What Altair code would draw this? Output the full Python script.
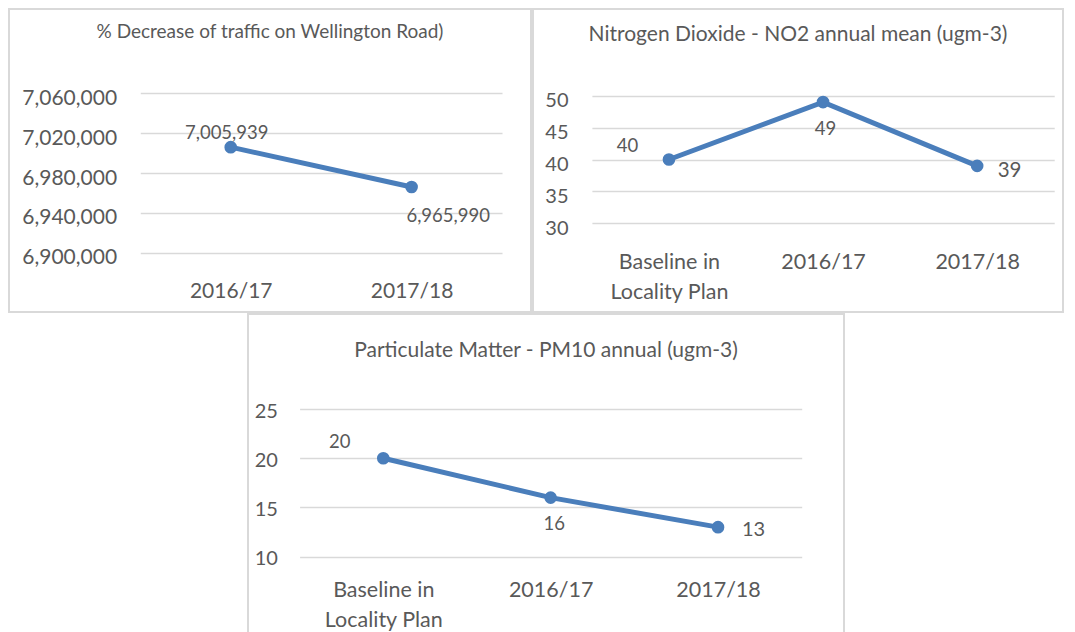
import altair as alt
import pandas as pd

# ---- data ----
traffic_title = "% Decrease of traffic on Wellington Road)"
traffic_cats = ["2016/17", "2017/18"]
traffic_vals = [7005939, 6965990]
traffic_ticks = [6900000, 6940000, 6980000, 7020000, 7060000]

no2_title = "Nitrogen Dioxide - NO2 annual mean (ugm-3)"
no2_cats = ["Baseline in\nLocality Plan", "2016/17", "2017/18"]
no2_vals = [40, 49, 39]
no2_ticks = [30, 35, 40, 45, 50]

pm10_title = "Particulate Matter - PM10 annual (ugm-3)"
pm10_cats = ["Baseline in\nLocality Plan", "2016/17", "2017/18"]
pm10_vals = [20, 16, 13]
pm10_ticks = [10, 15, 20, 25]

BLUE = "#4A7EBB"
GREY = "#595959"
GRID = "#D9D9D9"
FONT = "Lato"
FRAME = alt.ViewBackground(stroke=GRID, strokeWidth=2)


def panel(cats, vals, ticks, title, w, h, xr, yr, yfmt, ylab_x, ylab_off,
          ylab_size, xlab_base, xlab_size, title_base, title_size, labels):
    df = pd.DataFrame({"cat": cats, "val": vals})
    x = alt.X(
        "cat:N", sort=cats,
        scale=alt.Scale(type="point", range=xr, padding=0.5),
        axis=alt.Axis(title=None, orient="bottom", offset=xlab_base - h,
                      labelPadding=0, ticks=False, tickSize=0, domain=False,
                      grid=False, labelExpr="split(datum.label, '\\n')",
                      labelLineHeight=30, labelBaseline="alphabetic",
                      labelFontSize=xlab_size, labelColor=GREY,
                      labelFont=FONT, labelAngle=0),
    )
    y = alt.Y(
        "val:Q",
        scale=alt.Scale(domain=[ticks[0], ticks[-1]], range=yr, nice=False,
                        zero=False),
        axis=alt.Axis(title=None, values=ticks, format=yfmt,
                      offset=-ylab_x, labelPadding=0, ticks=False, tickSize=0,
                      domain=False, grid=True, gridColor=GRID, gridWidth=1.6,
                      labelFontSize=ylab_size, labelColor=GREY,
                      labelOffset=ylab_off, labelFont=FONT),
    )
    base = alt.Chart(df)
    line = base.mark_line(color=BLUE, strokeWidth=5).encode(x=x, y=y)
    pts = base.mark_circle(color=BLUE, size=160, opacity=1).encode(x=x, y=y)
    layers = [line, pts]
    for i, (dx, dy, fs) in enumerate(labels):
        layers.append(
            alt.Chart(df.iloc[[i]]).mark_text(
                dx=dx, dy=dy, fontSize=fs, color=GREY, font=FONT,
                baseline="alphabetic", align="center"
            ).encode(x=x, y=y, text=alt.Text("val:Q", format=","))
        )
    return alt.layer(*layers).properties(
        width=w, height=h, view=FRAME,
        title=alt.TitleParams(title, fontSize=title_size, color=GREY,
                              font=FONT, fontWeight="normal",
                              offset=-(title_base + title_size),
                              baseline="alphabetic",
                              anchor="middle", frame="group"),
    )


p1 = panel(traffic_cats, traffic_vals, traffic_ticks, traffic_title,
           522, 303, [131.3, 493], [243.7, 84.3], ",d", 107.6, 5, 21,
           288.7, 21, 28.7, 19,
           [(-4, -7.7, 18.5), (36.6, 35, 18.5)])

p2 = panel(no2_cats, no2_vals, no2_ticks, no2_title,
           530, 303, [58.9, 521.2], [214.3, 86.7], "d", 35, 5, 20,
           259.3, 21.5, 31.7, 21,
           [(-41.5, -7.6, 18.5), (2.5, 33.3, 18.5), (32.4, 11, 20.5)])

p3 = panel(pm10_cats, pm10_vals, pm10_ticks, pm10_title,
           596, 330, [51.6, 553.7], [242.7, 95], "d", 29.4, 2, 20,
           282, 21.5, 42.7, 21,
           [(-43.6, -10.7, 18.5), (3.6, 32.7, 18.5), (35.6, 9.3, 20)])

spacer_df = pd.DataFrame({"s": [0]})
spacer = alt.Chart(spacer_df).mark_point(opacity=0).encode(
    x=alt.X("s:Q", axis=None), y=alt.Y("s:Q", axis=None)
).properties(width=239, height=10,
             view=alt.ViewBackground(stroke="transparent"))

top = alt.hconcat(p1, p2, spacing=2, bounds="flush")
bottom = alt.hconcat(spacer, p3, spacing=0, bounds="flush")
chart = alt.vconcat(top, bottom, spacing=0).properties(
    padding=0
).configure(font=FONT)

chart.save("out.html", embed_options={"renderer": "svg", "actions": False})
